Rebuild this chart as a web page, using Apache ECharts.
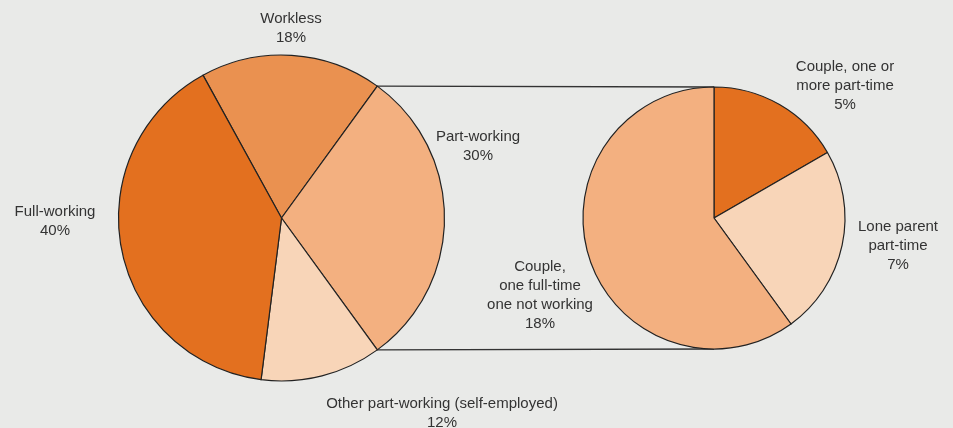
<!DOCTYPE html>
<html>
<head>
<meta charset="utf-8">
<script src="https://cdn.jsdelivr.net/npm/echarts@6/dist/echarts.min.js"></script>
<style>
html,body{margin:0;padding:0;background:#e9eae8;}
#chart{width:953px;height:428px;}
</style>
</head>
<body>
<div id="chart"></div>
<script>
// Data
var mainCategories = ['Workless', 'Part-working', 'Other part-working (self-employed)', 'Full-working'];
var mainValues = [18, 30, 12, 40];
var subCategories = ['Couple, one or\nmore part-time', 'Lone parent\npart-time', 'Couple,\none full-time\none not working'];
var subValues = [5, 7, 18];

// Styles / layout
var mainColors = ['#ea9150', '#f3b080', '#f8d5b8', '#e3701f'];
var subColors = ['#e3701f', '#f8d5b8', '#f3b080'];
var mainCenter = [281.5, 218], mainR = 163;
var subCenter = [714, 218], subR = 131;
var splitIndex = 1;
var mainLabelPos = [[291, 28], [478, 146], [442, 413], [55, 221]];
var subLabelPos = [[845, 86], [898, 246], [540, 295]];

// start angle so that split slice is centred on the right (0 deg)
var total = mainValues.reduce(function(a,b){return a+b;},0);
var before = 0;
for (var i = 0; i < splitIndex; i++) before += mainValues[i];
var splitDeg = mainValues[splitIndex] / total * 360;
var mainStart = before / total * 360 + splitDeg / 2;

var chart = echarts.init(document.getElementById('chart'));
var textStyle = {fontFamily: 'Liberation Sans, Arial, sans-serif', fontSize: 15, color: '#333', lineHeight: 19, overflow: 'none'};

function mkData(names, vals, colors) {
  return names.map(function(n, i){ return {name: n, value: vals[i], itemStyle: {color: colors[i]}}; });
}
function layoutFn(names, pos) {
  return function(p) {
    var idx = p.dataIndex;
    for (var k = 0; k < names.length; k++) {
      if (p.text && p.text.indexOf(names[k] + '\n') === 0) { idx = k; break; }
    }
    var q = pos[idx];
    return {x: q[0], y: q[1], align: 'center', verticalAlign: 'middle'};
  };
}

// connector lines from split-slice edges to sub pie top / bottom
var a = (splitDeg / 2) * Math.PI / 180;
var x1 = mainCenter[0] + mainR * Math.cos(a);
var yTop = mainCenter[1] - mainR * Math.sin(a);
var yBot = mainCenter[1] + mainR * Math.sin(a);
var subTop = subCenter[1] - subR, subBot = subCenter[1] + subR;

chart.setOption({
  backgroundColor: '#e9eae8',
  animation: false,
  graphic: [
    {type: 'line', shape: {x1: x1, y1: yTop, x2: subCenter[0], y2: subTop}, style: {stroke: '#333', lineWidth: 1.3}, z: 0},
    {type: 'line', shape: {x1: x1, y1: yBot, x2: subCenter[0], y2: subBot}, style: {stroke: '#333', lineWidth: 1.3}, z: 0}
  ],
  series: [
    {
      type: 'pie', center: mainCenter, radius: mainR, startAngle: mainStart, clockwise: true,
      data: mkData(mainCategories, mainValues, mainColors),
      itemStyle: {borderColor: '#222', borderWidth: 1.2},
      label: Object.assign({show: true, position: 'inside', formatter: '{b}\n{c}%'}, textStyle),
      labelLine: {show: false},
      labelLayout: layoutFn(mainCategories, mainLabelPos),
      emphasis: {disabled: true}, silent: true, z: 2
    },
    {
      type: 'pie', center: subCenter, radius: subR, startAngle: 90, clockwise: true,
      data: mkData(subCategories, subValues, subColors),
      itemStyle: {borderColor: '#222', borderWidth: 1.2},
      label: Object.assign({show: true, position: 'inside', formatter: '{b}\n{c}%'}, textStyle),
      labelLine: {show: false},
      labelLayout: layoutFn(subCategories, subLabelPos),
      emphasis: {disabled: true}, silent: true, z: 2
    }
  ]
});
</script>
</body>
</html>
